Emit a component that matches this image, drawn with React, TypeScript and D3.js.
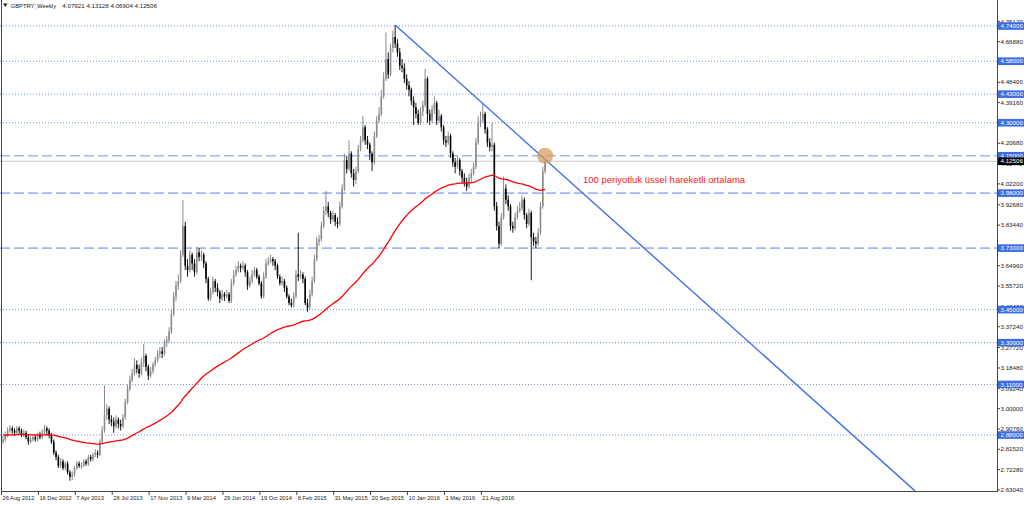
import React from "react";
import * as d3 from "d3";

// Weekly GBPTRY candles (open of each bar = previous close)
const firstOpen = 2.85;
const closes = [
  2.86, 2.88, 2.9, 2.91, 2.9, 2.89, 2.91, 2.9, 2.88, 2.89, 2.87, 2.85, 2.86, 2.87, 2.86, 2.88, 2.87, 2.89, 2.91, 2.9, 2.88,
  2.85, 2.8, 2.78, 2.74, 2.76, 2.73, 2.75, 2.71, 2.69, 2.7,
  2.73, 2.75, 2.74, 2.74, 2.76, 2.75, 2.78, 2.77, 2.79, 2.8, 2.79, 2.85,
  2.9, 2.97, 3.0, 2.95, 2.94, 2.92, 2.95, 2.93, 2.92, 2.96, 3.03,
  3.09, 3.13, 3.16, 3.2, 3.18, 3.16, 3.21, 3.24, 3.19, 3.15, 3.17, 3.2, 3.22, 3.25, 3.26,
  3.25, 3.3, 3.31, 3.35, 3.43, 3.51, 3.56, 3.58, 3.7, 3.83, 3.65, 3.63,
  3.7, 3.66, 3.62, 3.71, 3.69, 3.7, 3.66, 3.59, 3.5, 3.53,
  3.58, 3.55, 3.53, 3.5, 3.52, 3.51, 3.52, 3.49, 3.57, 3.61,
  3.63, 3.65, 3.64, 3.65, 3.62, 3.56, 3.58, 3.61, 3.63, 3.6, 3.57, 3.51, 3.6, 3.66, 3.67, 3.68,
  3.67, 3.65, 3.6, 3.57, 3.58, 3.55, 3.51, 3.48, 3.47, 3.51, 3.61,
  3.6, 3.61, 3.59, 3.48, 3.46, 3.52, 3.58, 3.68, 3.76, 3.77,
  3.83, 3.9, 3.92, 3.89, 3.86, 3.88, 3.85, 3.84, 3.92, 4.0,
  4.13, 4.09, 4.16, 4.07, 4.04, 4.08, 4.18, 4.22, 4.28, 4.22, 4.2, 4.16, 4.12,
  4.24, 4.31, 4.34, 4.42, 4.5, 4.59, 4.52, 4.64, 4.69, 4.66,
  4.62, 4.56, 4.55, 4.5, 4.47, 4.45, 4.4, 4.37, 4.34, 4.3, 4.35, 4.38, 4.5, 4.34,
  4.31, 4.36, 4.39, 4.31, 4.33, 4.28, 4.22, 4.21, 4.24, 4.16, 4.12, 4.1, 4.13, 4.08, 4.05,
  4.03, 4.01, 4.05, 4.07, 4.1, 4.21, 4.3, 4.31, 4.34, 4.27, 4.21, 4.19, 4.2, 3.92,
  3.83, 3.75, 3.87, 4.0, 3.95, 3.92, 3.83, 3.82, 3.87, 3.9, 3.91, 3.95, 3.88, 3.84, 3.89, 3.78, 3.76, 3.75, 3.8, 3.92, 4.07921, 4.12506,
];
const highs = [
  2.875, 2.895, 2.915, 2.925, 2.92, 2.91, 2.92, 2.92, 2.91, 2.905, 2.9, 2.88, 2.875, 2.885, 2.88, 2.89, 2.895, 2.905, 2.925, 2.92, 2.91,
  2.89, 2.86, 2.81, 2.79, 2.775, 2.77, 2.76, 2.76, 2.72, 2.715,
  2.74, 2.76, 2.76, 2.755, 2.77, 2.77, 2.79, 2.79, 2.8, 2.815, 2.81, 2.86,
  2.92, 3.105, 3.02, 3.01, 2.97, 2.96, 2.97, 2.96, 2.95, 2.975, 3.045,
  3.11, 3.15, 3.18, 3.23, 3.22, 3.2, 3.23, 3.295, 3.25, 3.2, 3.19, 3.21, 3.235, 3.265, 3.28,
  3.28, 3.315, 3.33, 3.37, 3.45, 3.53, 3.58, 3.61, 3.72, 3.948, 3.85, 3.68,
  3.72, 3.71, 3.68, 3.735, 3.73, 3.72, 3.71, 3.67, 3.6, 3.55,
  3.6, 3.59, 3.57, 3.54, 3.54, 3.53, 3.54, 3.53, 3.59, 3.63,
  3.65, 3.67, 3.66, 3.67, 3.66, 3.63, 3.6, 3.63, 3.645, 3.64, 3.61, 3.58, 3.62, 3.68, 3.69, 3.7,
  3.69, 3.68, 3.66, 3.61, 3.6, 3.59, 3.56, 3.52, 3.5, 3.53, 3.63,
  3.8, 3.63, 3.62, 3.6, 3.5, 3.54, 3.6, 3.7, 3.78, 3.79,
  3.85, 3.92, 3.99, 3.94, 3.9, 3.9, 3.89, 3.87, 3.94, 4.02,
  4.16, 4.15, 4.22, 4.17, 4.09, 4.1, 4.2, 4.24, 4.33, 4.29, 4.24, 4.21, 4.17,
  4.26, 4.33, 4.37, 4.45, 4.53, 4.71, 4.62, 4.66, 4.72, 4.745,
  4.68, 4.64, 4.59, 4.57, 4.52, 4.49, 4.46, 4.42, 4.39, 4.36, 4.37, 4.4, 4.545, 4.51,
  4.36, 4.38, 4.42, 4.4, 4.36, 4.34, 4.29, 4.24, 4.26, 4.25, 4.17, 4.14, 4.15, 4.14, 4.09,
  4.07, 4.05, 4.07, 4.09, 4.12, 4.23, 4.33, 4.35, 4.39, 4.35, 4.28, 4.23, 4.3, 4.21,
  3.94, 3.85, 3.89, 4.055, 4.02, 3.97, 3.93, 3.85, 3.89, 3.92, 3.94, 3.97, 3.96, 3.89, 3.91, 3.9, 3.8, 3.78, 3.82, 3.94, 4.1, 4.13128,
];
const lows = [
  2.84, 2.85, 2.87, 2.89, 2.885, 2.875, 2.88, 2.885, 2.87, 2.87, 2.86, 2.835, 2.84, 2.85, 2.85, 2.85, 2.86, 2.86, 2.88, 2.885, 2.865,
  2.84, 2.79, 2.765, 2.73, 2.73, 2.72, 2.72, 2.7, 2.672, 2.675,
  2.69, 2.72, 2.73, 2.725, 2.735, 2.74, 2.74, 2.76, 2.76, 2.78, 2.775, 2.785,
  2.84, 2.89, 2.95, 2.93, 2.92, 2.89, 2.91, 2.91, 2.9, 2.91, 2.95,
  3.02, 3.08, 3.12, 3.15, 3.16, 3.14, 3.15, 3.19, 3.17, 3.13, 3.14, 3.16, 3.19, 3.21, 3.23,
  3.23, 3.24, 3.28, 3.3, 3.34, 3.42, 3.49, 3.54, 3.57, 3.69, 3.63, 3.6,
  3.62, 3.63, 3.6, 3.61, 3.67, 3.67, 3.64, 3.57, 3.49, 3.49,
  3.52, 3.53, 3.51, 3.48, 3.49, 3.49, 3.5, 3.48, 3.48, 3.56,
  3.6, 3.62, 3.62, 3.63, 3.6, 3.54, 3.55, 3.57, 3.6, 3.59, 3.56, 3.5, 3.5, 3.59, 3.65, 3.66,
  3.65, 3.63, 3.59, 3.56, 3.56, 3.53, 3.5, 3.47, 3.46, 3.46, 3.5,
  3.58, 3.59, 3.57, 3.47, 3.44, 3.45, 3.51, 3.57, 3.67, 3.74,
  3.76, 3.82, 3.88, 3.87, 3.84, 3.85, 3.83, 3.82, 3.83, 3.91,
  3.99, 4.07, 4.08, 4.05, 4.01, 4.02, 4.07, 4.17, 4.21, 4.2, 4.18, 4.13, 4.08,
  4.11, 4.23, 4.3, 4.33, 4.41, 4.49, 4.5, 4.51, 4.62, 4.64,
  4.6, 4.54, 4.53, 4.48, 4.45, 4.42, 4.38, 4.29, 4.32, 4.29, 4.29, 4.33, 4.37, 4.3,
  4.29, 4.3, 4.34, 4.29, 4.3, 4.26, 4.2, 4.19, 4.2, 4.14, 4.1, 4.07, 4.09, 4.06, 4.03,
  4.01, 3.99, 4.0, 4.03, 4.06, 4.09, 4.2, 4.28, 4.3, 4.25, 4.19, 4.17, 4.17, 3.9,
  3.81, 3.73, 3.74, 3.86, 3.93, 3.9, 3.81, 3.8, 3.81, 3.86, 3.89, 3.9, 3.86, 3.82, 3.83, 3.584, 3.74, 3.73, 3.74, 3.79, 3.91, 4.06904,
];

const emaPeriod = 100;
const emaSeed = 2.88;

const xTickLabels = [
  "26 Aug 2012", "16 Dec 2012", "7 Apr 2013", "28 Jul 2013", "17 Nov 2013",
  "9 Mar 2014", "29 Jun 2014", "19 Oct 2014", "8 Feb 2015", "31 May 2015",
  "20 Sep 2015", "10 Jan 2016", "1 May 2016", "21 Aug 2016",
];
const xTickEvery = 16;

const yTickLabels = [
  "4.76120", "4.66880", "4.48400", "4.39160", "4.20680", "4.11440", "4.02200",
  "3.92680", "3.83440", "3.64960", "3.55720", "3.46480", "3.37240", "3.27720",
  "3.18480", "3.09240", "3.00000", "2.90760", "2.81520", "2.72280", "2.63040",
];

const dottedLevels = [4.74, 4.58, 4.43, 4.3, 3.45, 3.3, 3.11, 2.88];
const dashedLevels = [4.15, 3.98, 3.73];
const currentPrice = 4.12506;

const trendStart = { bar: 170, price: 4.745 };
const trendEnd = { bar: 395.3, price: 2.626 };
const marker = { bar: 235, price: 4.15 };

const headerSymbol = "GBPTRY',Weekly";
const headerValues = "4.07921 4.13128 4.06904 4.12506";
const annotation = "100 periyotluk üssel hareketli ortalama";

export default function App() {
  const W = 1024;
  const H = 505;
  const plotRight = 997;
  const plotBottom = 491;
  const font = "'Liberation Sans', Arial, sans-serif";
  const n = closes.length;

  const x = d3.scaleLinear().domain([0, 235]).range([3, 545.1]);
  const y = d3.scaleLinear().domain([2.6304, 4.74]).range([489.9, 26]);

  const bars = closes.map((c, i) => {
    const o = i === 0 ? firstOpen : closes[i - 1];
    return {
      i,
      o,
      c,
      h: Math.max(highs[i] ?? c, o, c),
      l: Math.min(lows[i] ?? c, o, c),
    };
  });

  const alpha = 2 / (emaPeriod + 1);
  const ema: number[] = [];
  let e = emaSeed;
  closes.forEach((c) => {
    e = e + alpha * (c - e);
    ema.push(e);
  });

  const emaLine = d3
    .line<number>()
    .x((_, i) => x(i))
    .y((v) => y(v))(ema) as string;

  const trendLine = d3
    .line<{ bar: number; price: number }>()
    .x((d) => x(d.bar))
    .y((d) => y(d.price))([trendStart, trendEnd]) as string;

  const fmt = (v: number) => v.toFixed(5);

  return (
    <div style={{ position: "absolute", left: 0, top: 0 }}>
      <svg width={W} height={H} style={{ display: "block", background: "#fff" }} data-bars={n}>
        <defs>
          <clipPath id="plot">
            <rect x={0} y={0} width={plotRight} height={plotBottom} />
          </clipPath>
        </defs>
        <rect x={0} y={0} width={W} height={H} fill="#fff" />

        <g clipPath="url(#plot)">
          {dottedLevels.map((p) => (
            <line key={"d" + p} x1={0} x2={plotRight} y1={y(p)} y2={y(p)}
              stroke="#6f90f0" strokeWidth={1} strokeDasharray="1,2" />
          ))}
          {dashedLevels.map((p) => (
            <line key={"s" + p} x1={0} x2={plotRight} y1={y(p)} y2={y(p)}
              stroke="#a3b7f4" strokeWidth={1.6} strokeDasharray="10,4" />
          ))}
          <line x1={0} x2={plotRight} y1={y(currentPrice)} y2={y(currentPrice)}
            stroke="#c8c8c8" strokeWidth={1} />

          {bars.map((b) => {
            const bull = b.c >= b.o;
            const col = bull ? "#8c8c8c" : "#000";
            const cx = x(b.i);
            const top = y(Math.max(b.o, b.c));
            const bot = y(Math.min(b.o, b.c));
            return (
              <g key={b.i}>
                <line x1={cx} x2={cx} y1={y(b.h)} y2={y(b.l)} stroke={bull ? "#7a7a7a" : "#000"} strokeWidth={0.9} />
                <rect x={cx - 0.8} y={top} width={1.6} height={Math.max(1, bot - top)} fill={col} />
              </g>
            );
          })}

          <path d={emaLine} fill="none" stroke="#ff0000" strokeWidth={1.3} />
          <path d={trendLine} fill="none" stroke="#3f6fe6" strokeWidth={1.4} />
          <circle cx={x(marker.bar)} cy={y(marker.price)} r={8} fill="#d89a5c" fillOpacity={0.72} />
        </g>

        <text x={583} y={182.5} fontFamily={font} fontSize={9.5} fill="#ff2020">{annotation}</text>

        {/* frame */}
        <line x1={1.5} x2={1.5} y1={0} y2={plotBottom} stroke="#444" strokeWidth={1} />
        <line x1={plotRight + 0.5} x2={plotRight + 0.5} y1={0} y2={plotBottom} stroke="#444" strokeWidth={1} />
        <line x1={1} x2={plotRight + 1} y1={plotBottom + 0.5} y2={plotBottom + 0.5} stroke="#444" strokeWidth={1} />

        {/* header */}
        <path d="M3,3.5 L7.5,3.5 L5.25,7 Z" fill="#222" />
        <text x={10.7} y={8} fontFamily={font} fontSize={5.8} fill="#222">{headerSymbol}</text>
        <text x={62.3} y={8} fontFamily={font} fontSize={6.2} fill="#222">{headerValues}</text>

        {/* right axis ticks */}
        {yTickLabels.map((t) => {
          const v = +t;
          return (
            <g key={t}>
              <line x1={plotRight} x2={plotRight + 3} y1={y(v)} y2={y(v)} stroke="#444" />
              <text x={1000.5} y={y(v) + 2.2} fontFamily={font} fontSize={6.2} fill="#222">{t}</text>
            </g>
          );
        })}

        {[...dottedLevels, ...dashedLevels].map((p) => (
          <g key={"b" + p}>
            <rect x={998} y={y(p) - 3.8} width={26} height={7.6} fill="#3d6de0" />
            <text x={1000.5} y={y(p) + 2.2} fontFamily={font} fontSize={6.2} fill="#fff">{fmt(p)}</text>
          </g>
        ))}
        <rect x={998} y={y(currentPrice) - 3.8} width={26} height={7.6} fill="#000" />
        <text x={1000.5} y={y(currentPrice) + 2.2} fontFamily={font} fontSize={6.2} fill="#fff">{fmt(currentPrice)}</text>

        {/* bottom axis */}
        {xTickLabels.map((t, k) => {
          const bx = x(k * xTickEvery);
          return (
            <g key={t}>
              <line x1={bx - 1.5} x2={bx - 1.5} y1={plotBottom} y2={plotBottom + 4} stroke="#444" />
              <text x={bx - 0.5} y={500} fontFamily={font} fontSize={5.7} fill="#222">{t}</text>
            </g>
          );
        })}
      </svg>
    </div>
  );
}
